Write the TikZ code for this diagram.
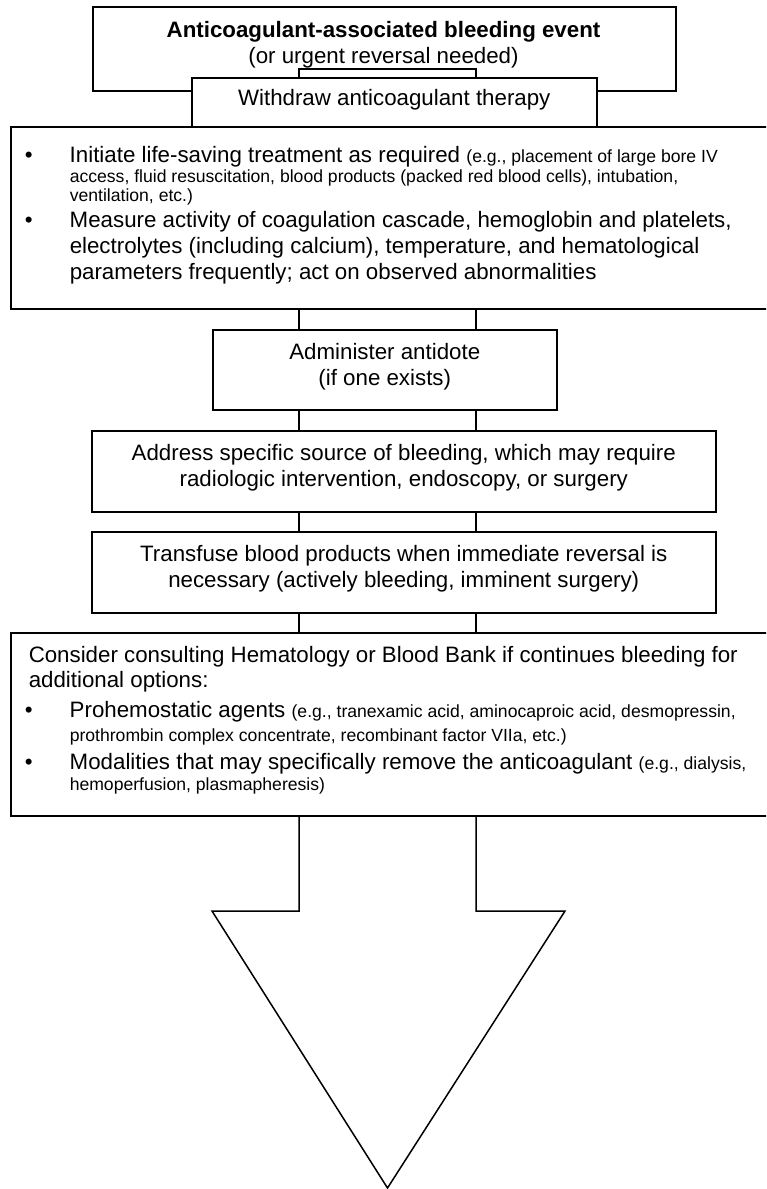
\documentclass[tikz,border=0pt]{standalone}
\usepackage{fontspec}
\setmainfont{Liberation Sans}
\newcommand{\smalltxt}[1]{{\fontsize{17.6}{20}\selectfont #1}}
\newcommand{\bul}{\makebox[45pt][l]{\textbullet}}
\newcommand{\lift}[1]{\rule[-#1]{0pt}{0pt}}
\begin{document}
\begin{tikzpicture}[x=1pt,y=-1pt,line width=1.5pt]
    \tikzstyle{every node}+=[inner sep=0pt,font=\fontsize{22.3}{26}\selectfont]
    \tikzstyle{box}=[draw=black,fill=white,anchor=north west]
    \tikzstyle{line}=[anchor=base west]
    \clip (0,0) rectangle (766,1189);
    \coordinate (sl) at (299,0);
    \coordinate (sr) at (476,0);
    \coordinate (tip) at (387.5,1188);
    % event and withdrawal
    \node [box,minimum width=583pt,minimum height=84pt] (event) at (92,6) {};
    \node [anchor=north,align=center] (eventtxt) at (383.5,21) {\textbf{Anticoagulant-associated bleeding event}\\(or urgent reversal needed)};
    \node [box,minimum width=405pt,minimum height=49pt] (withdraw) at (191,77) {Withdraw anticoagulant therapy\lift{8.7pt}};
    \draw [black] (sl |- withdraw.north) -- ++(0,-8) -| (sr |- withdraw.north);
    % supportive care
    \node [box,minimum width=758pt,minimum height=182pt] (care) at (10,126) {};
    \node [line] (init1) at (24,162) {\bul Initiate life-saving treatment as required \smalltxt{(e.g., placement of large bore IV}};
    \node [line] (init2) at (69,182) {\smalltxt{access, fluid resuscitation, blood products (packed red blood cells), intubation,}};
    \node [line] (init3) at (69,201) {\smalltxt{ventilation, etc.)}};
    \node [line] (meas1) at (24,227) {\bul Measure activity of coagulation cascade, hemoglobin and platelets,};
    \node [line] (meas2) at (69,253) {electrolytes (including calcium), temperature, and hematological};
    \node [line] (meas3) at (69,279) {parameters frequently; act on observed abnormalities};
    % steps
    \node [box,minimum width=344pt,minimum height=80pt,align=center] (antidote) at (212,329) {Administer antidote\\(if one exists)\lift{11pt}};
    \node [box,minimum width=624pt,minimum height=81pt,align=center] (source) at (91,430) {Address specific source of bleeding, which may require\\radiologic intervention, endoscopy, or surgery\lift{11pt}};
    \node [box,minimum width=624pt,minimum height=81pt,align=center] (transfuse) at (91,531) {Transfuse blood products when immediate reversal is\\necessary (actively bleeding, imminent surgery)\lift{11pt}};
    % further options
    \node [box,minimum width=758pt,minimum height=183pt] (options) at (10,632) {};
    \node [line] (cons1) at (28,662) {Consider consulting Hematology or Blood Bank if continues bleeding for};
    \node [line] (cons2) at (28,687) {additional options:};
    \node [line] (pro1) at (24,717) {\bul Prohemostatic agents \smalltxt{(e.g., tranexamic acid, aminocaproic acid, desmopressin,}};
    \node [line] (pro2) at (69,741) {\smalltxt{prothrombin complex concentrate, recombinant factor VIIa, etc.)}};
    \node [line] (mod1) at (24,769) {\bul Modalities that may specifically remove the anticoagulant \smalltxt{(e.g., dialysis,}};
    \node [line] (mod2) at (69,790) {\smalltxt{hemoperfusion, plasmapheresis)}};
    % shafts
    \draw [black] (sl |- care.south) -- (sl |- antidote.north);
    \draw [black] (sr |- care.south) -- (sr |- antidote.north);
    \draw [black] (sl |- antidote.south) -- (sl |- source.north);
    \draw [black] (sr |- antidote.south) -- (sr |- source.north);
    \draw [black] (sl |- source.south) -- (sl |- transfuse.north);
    \draw [black] (sr |- source.south) -- (sr |- transfuse.north);
    \draw [black] (sl |- transfuse.south) -- (sl |- options.north);
    \draw [black] (sr |- transfuse.south) -- (sr |- options.north);
    % big arrow
    \draw [black] (sl |- options.south) -- (sl |- 0,911) -- (212,911) -- (tip) -- (565,911) -- (sr |- 0,911) -- (sr |- options.south);
\end{tikzpicture}
\end{document}
